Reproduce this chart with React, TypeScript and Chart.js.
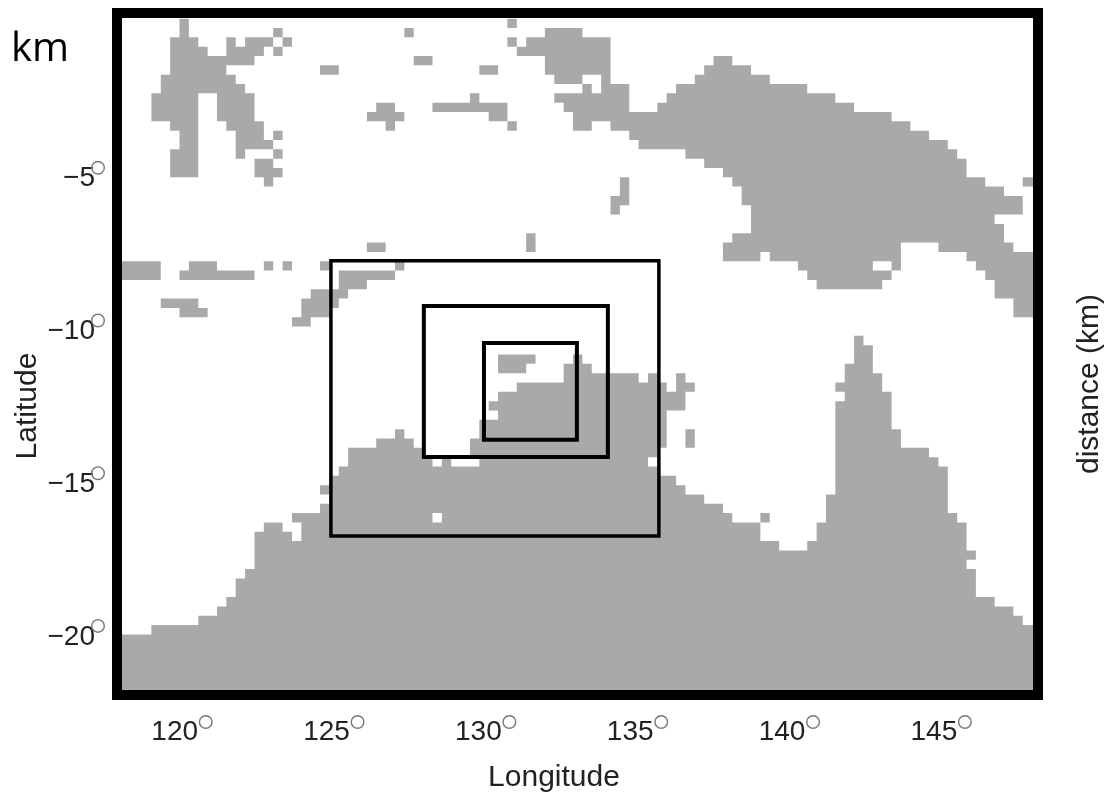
import React, { useEffect, useRef } from "react";
import { Chart, registerables } from "chart.js";

Chart.register(...registerables);

// Tick values
const lonTicks = [120, 125, 130, 135, 140, 145];
const latTicks = [-5, -10, -15, -20];

// Land mask grid: outlines are [column, row] corners of the 0.3-degree land cells
const gridLonOrigin = 118.043;
const gridLonStep = 0.30853;
const gridLatOrigin = -0.023;
const gridLatStep = -0.3054;

const australia = [[-1,73],[-1,66],[3,66],[3,65],[8,65],[8,64],[10,64],[10,63],[11,63],[11,62],[12,62],[12,60],[13,60],[13,59],[14,59],[14,55],[15,55],[15,54],[17,54],[17,55],[18,55],[18,56],[19,56],[19,54],[18,54],[18,53],[21,53],[21,52],[22,52],[22,49],[23,49],[23,48],[24,48],[24,46],[27,46],[27,45],[29,45],[29,44],[30,44],[30,45],[31,45],[31,46],[32,46],[32,47],[37,47],[37,45],[38,45],[38,43],[40,43],[40,42],[39,42],[39,41],[40,41],[40,40],[42,40],[42,39],[47,39],[47,37],[48,37],[48,36],[49,36],[49,37],[50,37],[50,38],[55,38],[55,39],[56,39],[56,38],[57,38],[57,39],[58,39],[58,40],[59,40],[59,38],[60,38],[60,39],[61,39],[61,40],[60,40],[60,42],[58,42],[58,46],[57,46],[57,49],[59,49],[59,50],[60,50],[60,51],[62,51],[62,52],[64,52],[64,53],[65,53],[65,54],[68,54],[68,56],[70,56],[70,57],[73,57],[73,56],[74,56],[74,54],[75,54],[75,51],[76,51],[76,41],[77,41],[77,40],[76,40],[76,39],[77,39],[77,37],[78,37],[78,34],[79,34],[79,35],[80,35],[80,38],[81,38],[81,40],[82,40],[82,44],[83,44],[83,46],[86,46],[86,47],[87,47],[87,48],[88,48],[88,53],[89,53],[89,54],[90,54],[90,57],[91,57],[91,58],[90,58],[90,59],[91,59],[91,62],[93,62],[93,63],[95,63],[95,64],[96,64],[96,65],[98,65],[98,73]];
const newGuinea = [[45,1],[49,1],[49,2],[52,2],[52,7],[54,7],[54,10],[57,10],[57,9],[58,9],[58,8],[59,8],[59,7],[61,7],[61,6],[62,6],[62,5],[63,5],[63,4],[65,4],[65,5],[67,5],[67,6],[69,6],[69,7],[73,7],[73,8],[76,8],[76,9],[78,9],[78,10],[82,10],[82,11],[84,11],[84,12],[86,12],[86,13],[88,13],[88,14],[89,14],[89,15],[90,15],[90,17],[92,17],[92,18],[94,18],[94,19],[96,19],[96,21],[93,21],[93,22],[94,22],[94,24],[95,24],[95,25],[98,25],[98,32],[95,32],[95,30],[93,30],[93,28],[92,28],[92,27],[91,27],[91,26],[90,26],[90,25],[87,25],[87,24],[83,24],[83,27],[82,27],[82,28],[81,28],[81,29],[74,29],[74,28],[73,28],[73,27],[72,27],[72,26],[69,26],[69,25],[68,25],[68,26],[64,26],[64,24],[65,24],[65,23],[67,23],[67,20],[66,20],[66,18],[65,18],[65,17],[64,17],[64,16],[62,16],[62,15],[60,15],[60,14],[55,14],[55,13],[54,13],[54,12],[52,12],[52,11],[50,11],[50,12],[48,12],[48,10],[47,10],[47,9],[46,9],[46,8],[49,8],[49,7],[50,7],[50,8],[51,8],[51,6],[49,6],[49,7],[46,7],[46,6],[45,6],[45,4],[42,4],[42,3],[43,3],[43,2],[45,2]];
const sulawesi = [[6,0],[7,0],[7,2],[8,2],[8,3],[9,3],[9,4],[11,4],[11,2],[12,2],[12,3],[13,3],[13,2],[16,2],[16,3],[15,3],[15,4],[14,4],[14,5],[11,5],[11,6],[12,6],[12,7],[13,7],[13,8],[14,8],[14,11],[15,11],[15,13],[16,13],[16,14],[13,14],[13,15],[12,15],[12,12],[11,12],[11,11],[10,11],[10,8],[8,8],[8,17],[5,17],[5,14],[6,14],[6,12],[5,12],[5,11],[3,11],[3,8],[4,8],[4,6],[5,6],[5,2],[6,2]];
const timor = [[23,27],[29,27],[29,28],[26,28],[26,29],[24,29],[24,30],[23,30],[23,31],[22,31],[22,32],[20,32],[20,33],[18,33],[18,32],[19,32],[19,30],[20,30],[20,29],[23,29]];
const bandaChain = [[33,9],[37,9],[37,8],[38,8],[38,9],[41,9],[41,11],[39,11],[39,10],[33,10]];
const tanimbar = [[53,17],[54,17],[54,20],[53,20],[53,21],[52,21],[52,19],[53,19]];
const crossIsland = [[27,9],[29,9],[29,10],[30,10],[30,11],[29,11],[29,12],[28,12],[28,11],[26,11],[26,10],[27,10]];
const butonIsland = [[14,15],[16,15],[16,16],[17,16],[17,17],[16,17],[16,18],[15,18],[15,17],[14,17]];
const sumbawaBar = [[7,26],[10,26],[10,27],[14,27],[14,28],[6,28],[6,27],[7,27]];
const sumbaBar = [[4,30],[8,30],[8,31],[9,31],[9,32],[6,32],[6,31],[4,31]];
const melvilleIsland = [[40,36],[44,36],[44,37],[43,37],[43,38],[40,38]];

// Small rectangular islands: [column start, row start, column end, row end]
const smallIslands = [
  [-1,26,4,28],[16,1,17,2],[17,2,18,3],[16,3,17,4],[16,12,17,13],[16,14,17,15],[21,5,23,6],[30,1,31,2],[31,4,33,5],[38,5,40,6],
  [41,0,42,1],[41,2,42,3],[41,11,42,12],[43,23,44,25],[15,26,16,27],[17,26,18,27],[21,26,22,27],[26,24,28,25],[29,26,30,27],
  [21,50,22,51],[68,53,69,54],[96,17,98,18],[60,44,61,46],
];

// White cells inside land
const lakes = [[80,26,82,27],[33,47,34,48],[35,47,38,48],[56,47,57,48],[33,53,34,54]];

// Nested model domains: [west, east, south, north]
const domainOuter = [124.88, 135.68, -16.96, -7.95];
const domainMiddle = [127.94, 134.0, -14.37, -9.43];
const domainInner = [129.92, 132.98, -13.81, -10.64];

const LAND = "#a9a9a9";

const toPoints = (cells: number[][]) =>
  cells.map(([c, r]) => ({ x: gridLonOrigin + gridLonStep * c, y: gridLatOrigin + gridLatStep * r }));

const rectOutline = ([c0, r0, c1, r1]: number[]) => [[c0, r0], [c1, r0], [c1, r1], [c0, r1]];

const boxPoints = ([w, e, s, n]: number[]) => [
  { x: w, y: s }, { x: w, y: n }, { x: e, y: n }, { x: e, y: s }, { x: w, y: s },
];

const areaDataset = (cells: number[][], color: string) => ({
  data: toPoints(cells),
  showLine: true,
  fill: "shape",
  backgroundColor: color,
  borderWidth: 0,
  pointRadius: 0,
  tension: 0,
});

const boxDataset = (box: number[], width: number) => ({
  data: boxPoints(box),
  showLine: true,
  fill: false,
  borderColor: "#000000",
  borderWidth: width,
  pointRadius: 0,
  tension: 0,
  borderJoinStyle: "miter" as const,
  borderCapStyle: "square" as const,
});

const TEXT = "#222222";
const FONT = '"Liberation Sans", Arial, sans-serif';

const decorPlugin = {
  id: "decor",
  afterDraw(chart: any) {
    const { ctx, chartArea: a, scales } = chart;
    ctx.save();
    // frame
    ctx.strokeStyle = "#000";
    ctx.lineWidth = 10;
    ctx.strokeRect(a.left - 5, a.top - 5, a.right - a.left + 10, a.bottom - a.top + 10);
    // degree rings beside the tick labels
    ctx.strokeStyle = "#777";
    ctx.lineWidth = 1.4;
    scales.x.ticks.forEach((_: any, i: number) => {
      ctx.beginPath();
      ctx.arc(scales.x.getPixelForTick(i) + 23, 722, 6.3, 0, Math.PI * 2);
      ctx.stroke();
    });
    scales.y.ticks.forEach((_: any, i: number) => {
      ctx.beginPath();
      ctx.arc(98, scales.y.getPixelForTick(i) - 3, 6.3, 0, Math.PI * 2);
      ctx.stroke();
    });
    // captions
    ctx.fillStyle = TEXT;
    ctx.textAlign = "center";
    ctx.textBaseline = "middle";
    ctx.font = `30px ${FONT}`;
    ctx.fillText("Longitude", 554, 778);
    ctx.save();
    ctx.translate(28, 406);
    ctx.rotate(-Math.PI / 2);
    ctx.fillText("Latitude", 0, 0);
    ctx.restore();
    ctx.save();
    ctx.translate(1090, 384);
    ctx.rotate(-Math.PI / 2);
    ctx.fillText("distance (km)", 0, 0);
    ctx.restore();
    ctx.fillStyle = "#000";
    ctx.textAlign = "left";
    ctx.font = '40px "Open Sans", sans-serif';
    ctx.fillText("km", 11, 50);
    ctx.restore();
  },
};

export default function App() {
  const ref = useRef<HTMLCanvasElement>(null);
  useEffect(() => {
    document.body.style.margin = "0";
    const lands = [australia, newGuinea, sulawesi, timor, bandaChain, tanimbar, crossIsland, butonIsland, sumbawaBar, sumbaBar, melvilleIsland];
    const chart = new Chart(ref.current!, {
      type: "scatter",
      data: {
        datasets: [
          boxDataset(domainOuter, 3.5),
          boxDataset(domainMiddle, 4),
          boxDataset(domainInner, 4),
          ...lakes.map((o) => areaDataset(rectOutline(o), "#ffffff")),
          ...lands.map((o) => areaDataset(o, LAND)),
          ...smallIslands.map((o) => areaDataset(rectOutline(o), LAND)),
        ] as any,
      },
      options: {
        responsive: false,
        animation: false,
        layout: { padding: { top: 18, right: 74, left: 0, bottom: 0 } },
        plugins: { legend: { display: false }, tooltip: { enabled: false }, title: { display: false } },
        scales: {
          x: {
            type: "linear",
            min: 118,
            max: 148,
            grid: { display: false, drawTicks: false },
            border: { display: false },
            afterBuildTicks: (s: any) => { s.ticks = lonTicks.map((value) => ({ value })); },
            afterFit: (s: any) => { s.height = 103; s.paddingLeft = 0; s.paddingRight = 0; },
            ticks: {
              autoSkip: false,
              maxRotation: 0,
              padding: 25,
              labelOffset: -8,
              color: TEXT,
              font: { family: "Liberation Sans", size: 28 },
              callback: (v: any) => String(v),
            },
          },
          y: {
            type: "linear",
            min: -22,
            max: 0,
            grid: { display: false, drawTicks: false },
            border: { display: false },
            afterBuildTicks: (s: any) => { s.ticks = latTicks.map((value) => ({ value })); },
            afterFit: (s: any) => { s.width = 122; s.paddingTop = 0; s.paddingBottom = 0; },
            ticks: {
              autoSkip: false,
              padding: 27,
              labelOffset: 8,
              color: TEXT,
              font: { family: "Liberation Sans", size: 28 },
              callback: (v: any) => "\u2212" + Math.abs(v),
            },
          },
        },
      },
      plugins: [decorPlugin],
    } as any);
    return () => chart.destroy();
  }, []);
  return <canvas ref={ref} width={1107} height={793} style={{ display: "block", position: "absolute", left: 0, top: 0, filter: "blur(0.5px)" }} />;
}
